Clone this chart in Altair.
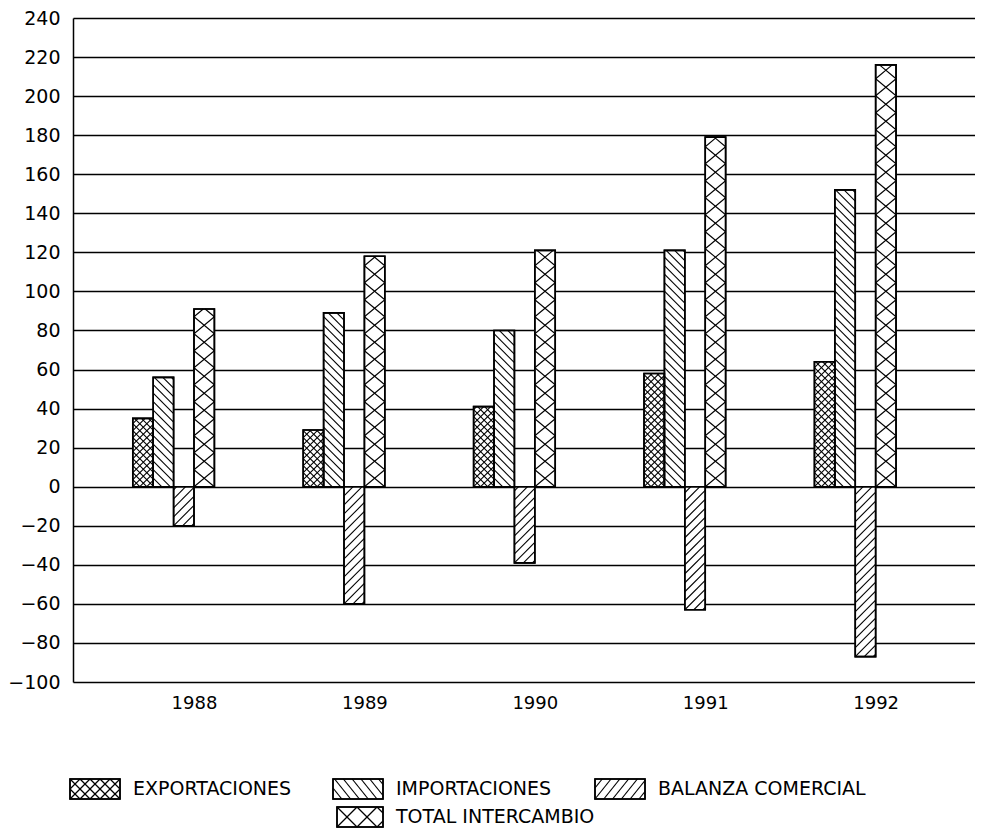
import json
import altair as alt
import pandas as pd

# ---------------- data ----------------
years = [1988, 1989, 1990, 1991, 1992]
series = ["EXPORTACIONES", "IMPORTACIONES", "BALANZA COMERCIAL", "TOTAL INTERCAMBIO"]
exportaciones = [35, 29, 41, 58, 64]
importaciones = [56, 89, 80, 121, 152]
balanza_comercial = [-20, -60, -39, -63, -87]
total_intercambio = [91, 118, 121, 179, 216]
y_ticks = list(range(-100, 241, 20))

series_values = [exportaciones, importaciones, balanza_comercial, total_intercambio]
rows = []
for i, (name, vals) in enumerate(zip(series, series_values)):
    for yr, v in zip(years, vals):
        rows.append({"year": yr, "serie": name, "idx": i, "value": v})
df = pd.DataFrame(rows)

# ---------------- layout / style ----------------
PAD_L, PAD_T, PAD_B = 65, 10, 147
W, H = 902, 664
X_DOM = [1987.29, 1992.583]
Y_DOM = [-100, 240]
KX = W / (X_DOM[1] - X_DOM[0])      # px per year
KY = H / (Y_DOM[1] - Y_DOM[0])      # px per unit
BAR_PX = 20.4
BW = BAR_PX / KX                     # bar width in years
FONT = "DejaVu Sans"

# hatch styles (pixel units): directions (+1 '/', -1 '\'), vertical period, slope, phases
PATTERNS = {
    "EXPORTACIONES": {"dirs": [1, -1], "P": 7.0, "s": 1.0, "c0p": 0.0, "c0n": 0.0},
    "IMPORTACIONES": {"dirs": [-1], "P": 8.5, "s": 1.0, "c0p": 0.0, "c0n": 0.0},
    "BALANZA COMERCIAL": {"dirs": [1], "P": 9.0, "s": 1.0, "c0p": 0.0, "c0n": 0.0},
    "TOTAL INTERCAMBIO": {"dirs": [1, -1], "P": 17.0, "s": 17.0 / BAR_PX, "c0p": 0.0, "c0n": 17.0},
}
LEG_PATTERNS = {
    "EXPORTACIONES": {"dirs": [1, -1], "P": 10.0, "s": 1.0, "c0p": 0.0, "c0n": 0.0},
    "IMPORTACIONES": {"dirs": [-1], "P": 11.0, "s": 1.25, "c0p": 0.0, "c0n": 0.0},
    "BALANZA COMERCIAL": {"dirs": [1], "P": 11.0, "s": 1.25, "c0p": 0.0, "c0n": 0.0},
    "TOTAL INTERCAMBIO": {"dirs": [1, -1], "P": 20.0, "s": 1.0, "c0p": 0.0, "c0n": 20.0},
}
# legend layout: swatch left / top in px relative to the plot's top-left corner, swatch width
LEGEND_LAYOUT = {
    "EXPORTACIONES": (-3, 761, 50),
    "IMPORTACIONES": (260, 761, 50),
    "BALANZA COMERCIAL": (522, 761, 50),
    "TOTAL INTERCAMBIO": (264, 789, 46),
}
SW_H = 20
LABEL_GAP = 13

leg_df = pd.DataFrame(
    [{"serie": n, "lx": LEGEND_LAYOUT[n][0], "ly": LEGEND_LAYOUT[n][1], "lw": LEGEND_LAYOUT[n][2]}
     for n in series]
)


def by_serie(pats, key, default):
    expr = str(default)
    for name in reversed(series):
        val = pats[name][key]
        if isinstance(val, list):
            val = json.dumps(val)
        expr = f"datum.serie === '{name}' ? ({val}) : ({expr})"
    return expr


def hatch_rules(chart, pats, kx, ky, xenc, yenc, width=1.1):
    """chart has fields x0 (data), wpx (px), hpx (px), ybase (data), serie."""
    return (
        chart.transform_calculate(
            dirs=by_serie(pats, "dirs", "[]"),
            P=by_serie(pats, "P", 10),
            s=by_serie(pats, "s", 1),
            c0p=by_serie(pats, "c0p", 0),
            c0n=by_serie(pats, "c0n", 0),
        )
        .transform_flatten(["dirs"], as_=["dir"])
        .transform_calculate(
            c0="datum.dir > 0 ? datum.c0p : datum.c0n",
            cmin="datum.dir > 0 ? -datum.s * datum.wpx : 0",
            cmax="datum.dir > 0 ? datum.hpx : datum.hpx + datum.s * datum.wpx",
        )
        .transform_calculate(
            ks="sequence(floor((datum.cmin - datum.c0) / datum.P), ceil((datum.cmax - datum.c0) / datum.P) + 1)"
        )
        .transform_flatten(["ks"], as_=["k"])
        .transform_calculate(c="datum.c0 + datum.k * datum.P")
        .transform_calculate(
            u1="datum.dir > 0 ? max(0, -datum.c / datum.s) : max(0, (datum.c - datum.hpx) / datum.s)",
            u2="datum.dir > 0 ? min(datum.wpx, (datum.hpx - datum.c) / datum.s) : min(datum.wpx, datum.c / datum.s)",
        )
        .transform_filter("datum.u2 - datum.u1 > 0.3")
        .transform_calculate(
            xa=f"datum.x0 + datum.u1 / {kx}",
            xb=f"datum.x0 + datum.u2 / {kx}",
            ya=f"datum.ybase + (datum.dir * datum.s * datum.u1 + datum.c) / {ky}",
            yb=f"datum.ybase + (datum.dir * datum.s * datum.u2 + datum.c) / {ky}",
        )
        .mark_rule(color="black", strokeWidth=width)
        .encode(x=xenc("xa"), x2="xb:Q", y=yenc("ya"), y2="yb:Q")
    )


# ---------------- main plot ----------------
xs = alt.Scale(domain=X_DOM, nice=False, zero=False)
ys = alt.Scale(domain=Y_DOM, nice=False, zero=False)
x_axis = alt.Axis(values=years, format="d", title=None, grid=False, ticks=False, tickSize=0,
                  domain=False, labelFontSize=18, labelPadding=12, labelFlush=False,
                  labelOverlap=False, labelColor="black", labelFont=FONT)
y_axis = alt.Axis(values=y_ticks, title=None, grid=True, gridColor="black", gridWidth=1.3,
                  gridOpacity=1, ticks=False, tickSize=0, domain=True, domainColor="black",
                  domainWidth=1.5, labelFontSize=19, labelPadding=13, labelFlush=False,
                  labelOverlap=False, labelColor="black", labelFont=FONT)
mx = lambda f: alt.X(f"{f}:Q", scale=xs, axis=x_axis)
my = lambda f: alt.Y(f"{f}:Q", scale=ys, axis=y_axis)

base = alt.Chart(df).transform_calculate(
    x0=f"datum.year + (datum.idx - 3) * {BW}",
    x1=f"datum.year + (datum.idx - 2) * {BW}",
    zero="0",
    wpx=f"{BAR_PX}",
    hpx=f"abs(datum.value) * {KY}",
    ybase="min(datum.value, 0)",
)

bars = base.mark_rect(fill="white", stroke="black", strokeWidth=1.6).encode(
    x=mx("x0"), x2="x1:Q", y=my("value"), y2="zero:Q")
hatch = hatch_rules(base, PATTERNS, KX, KY, mx, my)
outline = base.mark_rect(fillOpacity=0, stroke="black", strokeWidth=1.6).encode(
    x=mx("x0"), x2="x1:Q", y=my("value"), y2="zero:Q")

main = alt.layer(bars, hatch, outline)

# ---------------- legend (pixel scales of its own) ----------------
lxs = alt.Scale(domain=[0, W], nice=False, zero=False)
lys = alt.Scale(domain=[0, H], nice=False, zero=False)
lx = lambda f: alt.X(f"{f}:Q", scale=lxs, axis=None)
ly = lambda f: alt.Y(f"{f}:Q", scale=lys, axis=None)

lbase = alt.Chart(leg_df).transform_calculate(
    x0="datum.lx",
    x1="datum.lx + datum.lw",
    wpx="datum.lw",
    hpx=f"{SW_H}",
    ybase=f"{H} - datum.ly - {SW_H}",
    ytop=f"{H} - datum.ly",
    tx=f"datum.lx + datum.lw + {LABEL_GAP}",
    ty=f"{H} - datum.ly - {SW_H / 2}",
)
leg_box = lbase.mark_rect(fill="white", stroke="black", strokeWidth=1.5).encode(
    x=lx("x0"), x2="x1:Q", y=ly("ybase"), y2="ytop:Q")
leg_hatch = hatch_rules(lbase, LEG_PATTERNS, 1, 1, lx, ly, width=1.2)
leg_outline = lbase.mark_rect(fillOpacity=0, stroke="black", strokeWidth=1.5).encode(
    x=lx("x0"), x2="x1:Q", y=ly("ybase"), y2="ytop:Q")
leg_text = lbase.mark_text(align="left", baseline="middle", fontSize=19, font=FONT,
                           color="black").encode(x=lx("tx"), y=ly("ty"), text="serie:N")

legend = alt.layer(leg_box, leg_hatch, leg_outline, leg_text)

chart = (
    alt.layer(main, legend)
    .resolve_scale(x="independent", y="independent")
    .properties(
        width=W,
        height=H,
        padding={"left": PAD_L, "top": PAD_T, "right": 0, "bottom": PAD_B},
        autosize=alt.AutoSizeParams(type="none"),
        background="white",
    )
    .configure(font=FONT)
    .configure_view(stroke=None)
)

chart.save("out.html", embed_options={"renderer": "svg", "actions": False})
